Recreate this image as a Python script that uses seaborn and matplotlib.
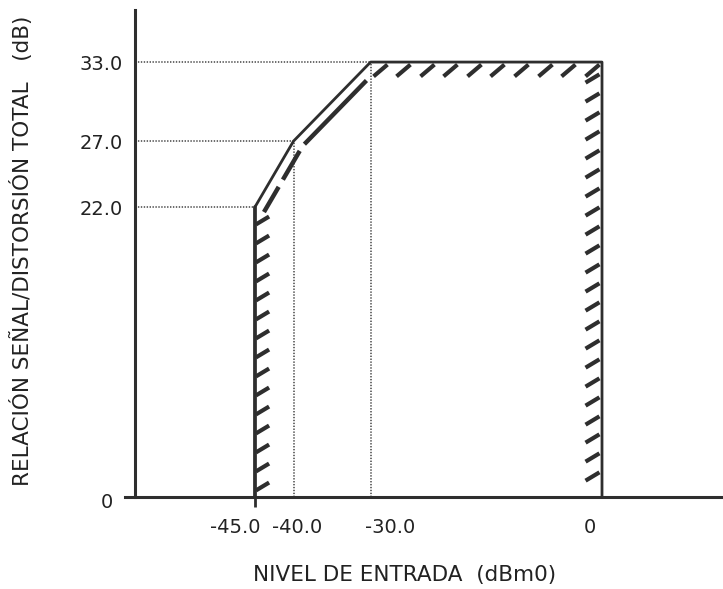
import numpy as np
import seaborn as sns
import matplotlib.pyplot as plt
from matplotlib.path import Path
from matplotlib.markers import MarkerStyle
from matplotlib.transforms import ScaledTranslation

# === mask data ===
mask_x = [-45, -45, -40, -30, 0, 0]
mask_y = [0, 22, 27, 33, 33, 0]
x_ticks = [-45, -40, -30, 0]
x_labels = ["-45.0", "-40.0", "-30.0", "0"]
y_ticks = [0, 22, 27, 33]
y_labels = ["0", "22.0", "27.0", "33.0"]

sns.set_theme(style="white")
plt.rcParams["font.family"] = ["DejaVu Sans"]
plt.rcParams["lines.scale_dashes"] = False

ink = "#2e2e2e"
fig = plt.figure(figsize=(7.23, 5.89), dpi=100)
ax = fig.add_axes([125 / 723, 92 / 589, 598 / 723, 487 / 589])
ax.set_xlim(-61.85, 15.69)
ax.set_ylim(0, 36.95)

def px(dx, dy):
    # offset in screen pixels
    return ax.transData + ScaledTranslation(dx / 100, dy / 100, fig.dpi_scale_trans)

# dotted guide lines
dot = dict(color="#444444", lw=1.1, linestyle=(0, (1.0, 1.1)), zorder=1)
y_spine = -60.55
for xv, yv in zip(mask_x[1:4], mask_y[1:4]):
    ax.plot([y_spine, xv], [yv, yv], **dot)
for xv, yv in zip(mask_x[2:4], mask_y[2:4]):
    ax.plot([xv, xv], [0, yv], **dot)

# mask outline
sns.lineplot(x=mask_x, y=mask_y, sort=False, estimator=None, color=ink,
             lw=2.0, ax=ax, zorder=3)
ax.plot(mask_x[:2], mask_y[:2], color=ink, lw=2.6, zorder=3)

# dashed inner line along the slope
ax.plot(mask_x[1:3], mask_y[1:3], color=ink, lw=3.2, dash_capstyle="butt",
        linestyle=(3, (24, 6)), transform=px(9, -5), zorder=3)
ax.plot(mask_x[2:4], mask_y[2:4], color=ink, lw=3.2, dash_capstyle="butt",
        linestyle=(0, (0.01, 4, 64, 20)), transform=px(7, -7), zorder=3)

# hatch ticks on the inside of the mask
side_mark = MarkerStyle(Path([(-1, -0.6), (1, 0.6)], [Path.MOVETO, Path.LINETO]), capstyle="butt")
top_mark = MarkerStyle(Path([(-1, -0.85), (1, 0.85)], [Path.MOVETO, Path.LINETO]), capstyle="butt")
hatch = dict(linestyle="none", markeredgecolor=ink, markeredgewidth=3.0, zorder=3)

left_y = np.arange(mask_y[1] - 1.0, 0.2, -1.44)
ax.plot(np.full(left_y.size, mask_x[0]), left_y, marker=side_mark, markersize=9.5,
        transform=px(7, 0), **hatch)
right_y = np.arange(mask_y[4] - 1.2, 0.3, -1.44)
ax.plot(np.full(right_y.size, mask_x[5]), right_y, marker=side_mark, markersize=10,
        transform=px(-10, 0), **hatch)
top_x = np.arange(mask_x[3] + 1.2, mask_x[4] - 1.0, 3.05)
ax.plot(top_x, np.full(top_x.size, mask_y[3]), marker=top_mark, markersize=10,
        transform=px(0, -8), **hatch)

# axes styling
sns.despine(ax=ax)
ax.spines["left"].set_position(("data", y_spine))
for s in ("left", "bottom"):
    ax.spines[s].set_color(ink)
    ax.spines[s].set_linewidth(2.2)

ax.set_xticks(x_ticks, x_labels)
ax.set_yticks(y_ticks, y_labels)
ax.tick_params(axis="x", direction="out", length=7, width=2, color=ink,
               pad=8, labelsize=14, labelcolor="#222222", bottom=True)
ax.tick_params(axis="y", length=0, pad=8.5, labelsize=14, labelcolor="#222222")
for t in ax.xaxis.get_major_ticks()[1:]:
    t.tick1line.set_visible(False)

for lab, dx in zip(ax.get_xticklabels(), [-20, 4, 19, -12]):
    lab.set_transform(lab.get_transform() + ScaledTranslation(dx / 100, 0, fig.dpi_scale_trans))
ylab0 = ax.get_yticklabels()[0]
ylab0.set_transform(ylab0.get_transform() + ScaledTranslation(-10 / 100, -3 / 100, fig.dpi_scale_trans))

ax.set_xlabel("NIVEL DE ENTRADA  (dBm0)", fontsize=15.5, color="#222222")
ax.set_ylabel("RELACIÓN SEÑAL/DISTORSIÓN TOTAL   (dB)", fontsize=15.5, color="#222222")
ax.xaxis.set_label_coords(0.468, -0.140)
ax.yaxis.set_label_coords(-0.154, 0.505)

plt.savefig("out.png", dpi=100)
plt.close()
